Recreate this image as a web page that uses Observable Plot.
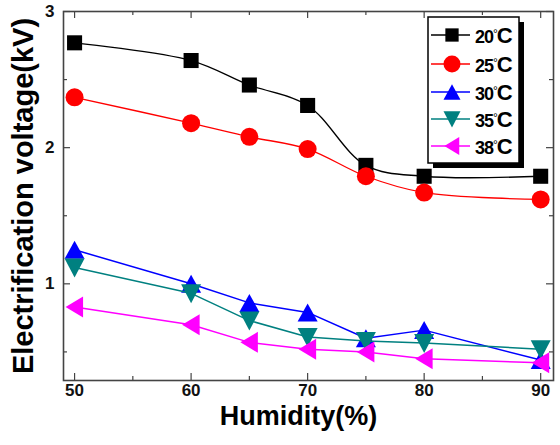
<!DOCTYPE html>
<html>
<head>
<meta charset="utf-8">
<script src="https://cdn.jsdelivr.net/npm/d3@7"></script>
<script src="https://cdn.jsdelivr.net/npm/@observablehq/plot@0.6"></script>
<style>
  html, body { margin: 0; padding: 0; background: #fff; }
  svg { display: block; }
</style>
</head>
<body>
<div id="chart"></div>
<script>
// ---- data ----
const humidity = [50, 60, 65, 70, 75, 80, 90];
const v20 = [2.77, 2.64, 2.46, 2.31, 1.87, 1.79, 1.79];
const v25 = [2.37, 2.18, 2.08, 1.99, 1.79, 1.67, 1.62];
const v30 = [1.25, 1.00, 0.86, 0.79, 0.60, 0.66, 0.44];
const v35 = [1.12, 0.93, 0.73, 0.61, 0.58, 0.565, 0.52];
const v38 = [0.83, 0.70, 0.57, 0.52, 0.50, 0.45, 0.42];
const seriesNames = ["20", "25", "30", "35", "38"];
const xTicks = [50, 60, 70, 80, 90];
const xMinor = [55, 65, 75, 85];
const yTicks = [1, 2, 3];
const yMinor = [0.5, 1.5, 2.5];
const xLabel = "Humidity(%)";
const yLabel = "Electrification voltage(kV)";

// ---- symbols ----
const triUp = {draw(ctx, size) { const s = Math.sqrt(size / Math.PI) / 10; ctx.moveTo(0, -9 * s); ctx.lineTo(10 * s, 9 * s); ctx.lineTo(-10 * s, 9 * s); ctx.closePath(); }};
const triDown = {draw(ctx, size) { const s = Math.sqrt(size / Math.PI) / 10; ctx.moveTo(0, 10 * s); ctx.lineTo(10 * s, -9 * s); ctx.lineTo(-10 * s, -9 * s); ctx.closePath(); }};
const triLeft = {draw(ctx, size) { const s = Math.sqrt(size / Math.PI) / 10; ctx.moveTo(-9 * s, 0); ctx.lineTo(8.5 * s, -10.5 * s); ctx.lineTo(8.5 * s, 10.5 * s); ctx.closePath(); }};

const styles = [
  {values: v20, color: "#000000", symbol: "square", r: 8.5, curve: "catmull-rom", sw: 1.3},
  {values: v25, color: "#ff0000", symbol: "circle", r: 9, curve: "catmull-rom", sw: 1.3},
  {values: v30, color: "#0000ff", symbol: triUp, r: 10, curve: "linear", sw: 1.5},
  {values: v35, color: "#008080", symbol: triDown, r: 10, curve: "linear", sw: 1.5},
  {values: v38, color: "#ff00ff", symbol: triLeft, r: 10, curve: "linear", sw: 1.5}
];

const W = 560, H = 445;
const mL = 63, mR = 7, mT = 11, mB = 65;
const innerW = W - mL - mR, innerH = H - mT - mB;
const font = "'Liberation Sans', Arial, sans-serif";
const axisColor = "#444";

const marks = [];
styles.forEach((st, i) => {
  const rows = humidity.map((h, j) => ({h, v: st.values[j]}));
  marks.push(Plot.line(rows, {x: "h", y: "v", stroke: st.color, strokeWidth: st.sw, curve: st.curve}));
  marks.push(Plot.dot(rows, {x: "h", y: "v", fill: st.color, symbol: st.symbol, r: st.r}));
});

// ticks (inward, mirrored)
marks.push(
  Plot.tickX(xTicks, {x: d => d, insetTop: innerH - 7, stroke: axisColor, strokeWidth: 1.2}),
  Plot.tickX(xMinor, {x: d => d, insetTop: innerH - 4, stroke: axisColor, strokeWidth: 1.2}),
  Plot.tickX(xTicks, {x: d => d, insetBottom: innerH - 7, stroke: axisColor, strokeWidth: 1.2}),
  Plot.tickX(xMinor, {x: d => d, insetBottom: innerH - 4, stroke: axisColor, strokeWidth: 1.2}),
  Plot.tickY(yTicks, {y: d => d, insetRight: innerW - 7, stroke: axisColor, strokeWidth: 1.2}),
  Plot.tickY(yMinor, {y: d => d, insetRight: innerW - 4, stroke: axisColor, strokeWidth: 1.2}),
  Plot.tickY(yTicks, {y: d => d, insetLeft: innerW - 7, stroke: axisColor, strokeWidth: 1.2}),
  Plot.tickY(yMinor, {y: d => d, insetLeft: innerW - 4, stroke: axisColor, strokeWidth: 1.2}),
  Plot.frame({stroke: axisColor, strokeWidth: 1.6}),
  Plot.text(xTicks, {x: d => d, text: d => String(d), frameAnchor: "bottom", dy: 15, textAnchor: "middle", fontSize: 17, fontWeight: "bold", fontFamily: font, fill: "#111"}),
  Plot.text(yTicks, {y: d => d, text: d => String(d), frameAnchor: "left", dx: -9, textAnchor: "end", fontSize: 17, fontWeight: "bold", fontFamily: font, fill: "#111"}),
  Plot.text([xLabel], {text: d => d, frameAnchor: "bottom", dy: 44, dx: -10, textAnchor: "middle", fontSize: 27, fontWeight: "bold", fontFamily: font, fill: "#000"}),
  Plot.text([yLabel], {text: d => d, frameAnchor: "left", dx: -40, rotate: -90, textAnchor: "middle", fontSize: 29, fontWeight: "bold", fontFamily: font, fill: "#000"})
);

const svgEl = Plot.plot({
  width: W, height: H,
  marginLeft: mL, marginRight: mR, marginTop: mT, marginBottom: mB,
  x: {domain: [49.05, 91.1], axis: null},
  y: {domain: [0.29, 3.0], axis: null},
  style: {background: "#fff", overflow: "visible"},
  marks
});
document.getElementById("chart").appendChild(svgEl);

// ---- legend ----
const svg = d3.select(svgEl);
const lg = svg.append("g");
const bx = 428, by = 17, bw = 91, bh = 146;
lg.append("rect").attr("x", bx + 5).attr("y", by + 5).attr("width", bw).attr("height", bh).attr("fill", "#000");
lg.append("rect").attr("x", bx).attr("y", by).attr("width", bw).attr("height", bh).attr("fill", "#fff").attr("stroke", "#000").attr("stroke-width", 1.5);
const legY = [35, 64, 92, 119, 146];
const legR = [7.5, 8.5, 8.5, 8.5, 8.5];
styles.forEach((st, i) => {
  const y = legY[i];
  lg.append("line").attr("x1", bx + 3).attr("x2", bx + 42).attr("y1", y).attr("y2", y).attr("stroke", st.color).attr("stroke-width", 1.5);
  const sym = typeof st.symbol === "string" ? (st.symbol === "square" ? d3.symbolSquare : d3.symbolCircle) : st.symbol;
  const p = d3.path();
  const rr = legR[i];
  sym.draw(p, Math.PI * rr * rr);
  lg.append("path").attr("d", p.toString()).attr("transform", `translate(${bx + 24},${y})`).attr("fill", st.color);
  const t = lg.append("text").attr("x", bx + 47).attr("y", y + 8).attr("text-anchor", "start").attr("font-family", font).attr("fill", "#000");
  t.append("tspan").attr("font-size", 18).attr("font-weight", "bold").attr("letter-spacing", -1).text(seriesNames[i]);
  t.append("tspan").attr("font-size", 12).attr("dy", -5).text("°");
  t.append("tspan").attr("font-size", 22).attr("font-weight", "bold").attr("dy", 5).attr("dx", -1).text("C");
});
</script>
</body>
</html>
